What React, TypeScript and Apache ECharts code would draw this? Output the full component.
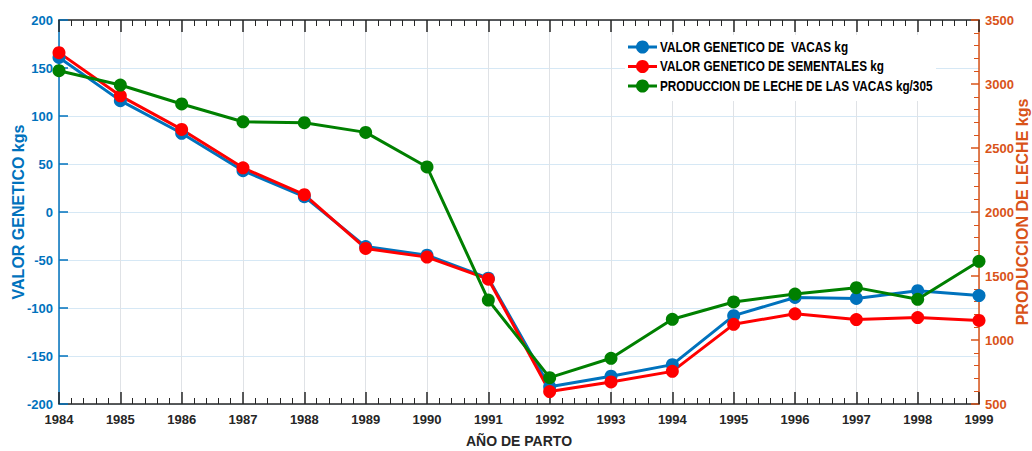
import React, { useEffect, useRef } from "react";
import * as echarts from "echarts";

const years = [1984, 1985, 1986, 1987, 1988, 1989, 1990, 1991, 1992, 1993, 1994, 1995, 1996, 1997, 1998, 1999];
const valorVacas = [161, 116, 82, 43, 16, -36, -45, -69, -182, -171, -159, -108, -89, -90, -82, -87];
const valorSementales = [166, 121, 86, 46, 18, -38, -47, -70, -187, -177, -166, -117, -106, -112, -110, -113];
const produccionLeche = [3104, 2992, 2844, 2705, 2698, 2622, 2352, 1312, 706, 857, 1162, 1297, 1359, 1409, 1318, 1615];

const seriesNames = [
  "VALOR GENETICO DE  VACAS kg",
  "VALOR GENETICO DE SEMENTALES kg",
  "PRODUCCION DE LECHE DE LAS VACAS kg/305",
];
const seriesColors = ["#0072BD", "#FF0000", "#008000"];
const leftTicks = { min: -200, max: 200, interval: 50 };
const rightTicks = { min: 500, max: 3500, interval: 500 };

const FONT = "'Liberation Sans', Arial, sans-serif";

export default function App() {
  const ref = useRef<HTMLDivElement>(null);
  useEffect(() => {
    if (!ref.current) return;
    const chart = echarts.init(ref.current, undefined, { renderer: "svg" });
    const pair = (vals: number[]) => years.map((y, i) => [y, vals[i]]);
    const lineSeries = (name: string, color: string, vals: number[], yIdx: number) => ({
      name,
      type: "line",
      yAxisIndex: yIdx,
      data: pair(vals),
      symbol: "circle",
      symbolSize: 13,
      lineStyle: { color, width: 3 },
      itemStyle: { color },
      color,
    });

    // custom legend (condensed text)
    const legendTop = 47;
    const legendStep = 19.5;
    const legendChildren: any[] = [
      { type: "rect", shape: { x: 625, y: 35, width: 311, height: 66 }, style: { fill: "#ffffff" }, z: 100 },
    ];
    seriesNames.forEach((name, i) => {
      const cy = legendTop + i * legendStep;
      legendChildren.push(
        { type: "line", shape: { x1: 628, y1: cy, x2: 657, y2: cy }, style: { stroke: seriesColors[i], lineWidth: 3 }, z: 101 },
        { type: "circle", shape: { cx: 642.5, cy, r: 6.5 }, style: { fill: seriesColors[i] }, z: 102 },
        {
          type: "text",
          x: 660,
          y: cy,
          scaleX: 0.84,
          z: 102,
          style: {
            text: name,
            fill: "#000000",
            font: `bold 14px ${FONT}`,
            textVerticalAlign: "middle",
            verticalAlign: "middle",
          },
        }
      );
    });

    chart.setOption({
      animation: false,
      backgroundColor: "#ffffff",
      grid: { left: 59, right: 53, top: 20, bottom: 47, containLabel: false, outerBoundsMode: "none" },
      graphic: legendChildren,
      xAxis: [
        {
          type: "value",
          position: "bottom",
          min: 1984,
          max: 1999,
          interval: 1,
          name: "AÑO DE PARTO",
          nameLocation: "middle",
          nameGap: 30,
          nameMoveOverlap: false,
          nameTextStyle: { fontFamily: FONT, fontWeight: "bold", fontSize: 14, color: "#262626" },
          axisLine: { show: true, onZero: false, lineStyle: { color: "#262626", width: 1.5 } },
          axisTick: { show: true, inside: true, length: 12, lineStyle: { color: "#262626", width: 1.5 } },
          minorTick: { show: true, splitNumber: 5, length: 6, lineStyle: { color: "#262626", width: 1 } },
          axisLabel: {
            formatter: (v: number) => String(v),
            fontFamily: FONT,
            fontWeight: "bold",
            fontSize: 13,
            color: "#262626",
            margin: 9,
          },
          splitLine: { show: true, lineStyle: { color: "#dfe2e6", width: 1 } },
        },
        {
          type: "value",
          position: "top",
          min: 1984,
          max: 1999,
          interval: 1,
          axisLine: { show: true, onZero: false, lineStyle: { color: "#262626", width: 1.5 } },
          axisTick: { show: true, inside: true, length: 12, lineStyle: { color: "#262626", width: 1.5 } },
          minorTick: { show: true, splitNumber: 5, length: 6, lineStyle: { color: "#262626", width: 1 } },
          axisLabel: { show: false },
          splitLine: { show: false },
        },
      ],
      yAxis: [
        {
          type: "value",
          position: "left",
          min: leftTicks.min,
          max: leftTicks.max,
          interval: leftTicks.interval,
          name: "VALOR GENETICO kgs",
          nameLocation: "middle",
          nameRotate: 90,
          nameGap: 33,
          nameMoveOverlap: false,
          nameTextStyle: { fontFamily: FONT, fontWeight: "bold", fontSize: 16, color: "#0072BD" },
          axisLine: { show: true, onZero: false, lineStyle: { color: "#0072BD", width: 1.5 } },
          axisTick: { show: true, inside: true, length: 9, lineStyle: { color: "#0072BD", width: 1.5 } },
          axisLabel: {
            formatter: (v: number) => String(v),
            fontFamily: FONT,
            fontWeight: "bold",
            fontSize: 13,
            color: "#0072BD",
            margin: 6,
          },
          splitLine: { show: true, lineStyle: { color: "#d6e8f5", width: 1 } },
        },
        {
          type: "value",
          position: "right",
          min: rightTicks.min,
          max: rightTicks.max,
          interval: rightTicks.interval,
          name: "PRODUCCION DE LECHE kgs",
          nameLocation: "middle",
          nameRotate: 90,
          nameGap: 35,
          nameMoveOverlap: false,
          nameTextStyle: { fontFamily: FONT, fontWeight: "bold", fontSize: 16, color: "#D95319" },
          axisLine: { show: true, onZero: false, lineStyle: { color: "#D95319", width: 1.5 } },
          axisTick: { show: true, inside: true, length: 8, lineStyle: { color: "#D95319", width: 1.5 } },
          minorTick: { show: true, splitNumber: 5, length: 5, lineStyle: { color: "#D95319", width: 1 } },
          axisLabel: {
            formatter: (v: number) => String(v),
            fontFamily: FONT,
            fontWeight: "bold",
            fontSize: 13,
            color: "#D95319",
            margin: 6,
          },
          splitLine: { show: false },
        },
      ],
      series: [
        lineSeries(seriesNames[0], seriesColors[0], valorVacas, 0),
        lineSeries(seriesNames[1], seriesColors[1], valorSementales, 0),
        lineSeries(seriesNames[2], seriesColors[2], produccionLeche, 1),
      ],
    });
    return () => chart.dispose();
  }, []);
  return <div ref={ref} style={{ width: 1032, height: 451, position: "absolute", left: 0, top: 0 }} />;
}
